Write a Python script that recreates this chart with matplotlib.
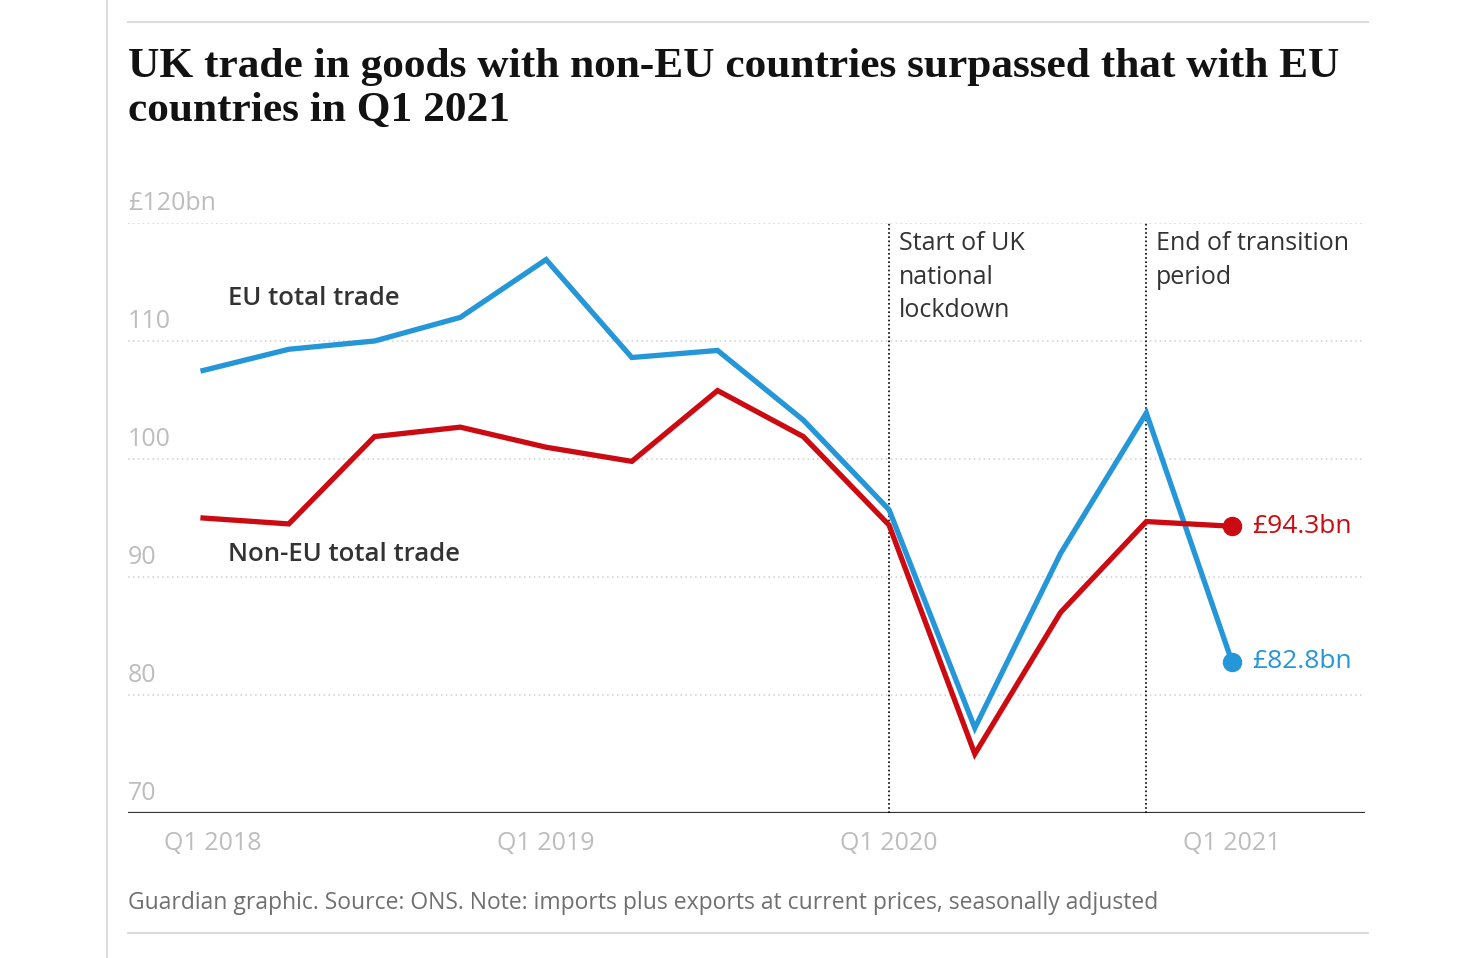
import matplotlib
matplotlib.use("Agg")
import matplotlib.pyplot as plt
import numpy as np

# quarterly trade in goods, £bn
quarters = ["Q1 2018", "Q2 2018", "Q3 2018", "Q4 2018",
            "Q1 2019", "Q2 2019", "Q3 2019", "Q4 2019",
            "Q1 2020", "Q2 2020", "Q3 2020", "Q4 2020", "Q1 2021"]
eu_trade = [107.5, 109.3, 110.0, 112.0, 116.9, 108.6, 109.2, 103.3,
            95.7, 77.2, 92.0, 103.9, 82.8]
non_eu_trade = [95.0, 94.5, 101.9, 102.7, 101.0, 99.8, 105.8, 101.9,
                94.4, 75.0, 87.0, 94.7, 94.3]
y_ticks = [70, 80, 90, 100, 110, 120]
y_tick_labels = ["70", "80", "90", "100", "110", "£120bn"]
x_tick_idx = [0, 4, 8, 12]
events = [(8, "Start of UK\nnational\nlockdown"), (11, "End of transition\nperiod")]
title_lines = ["UK trade in goods with non-EU countries surpassed that with EU",
               "countries in Q1 2021"]

W, H = 1472, 958
BLUE = "#2596d8"
RED = "#cc0a11"
DARK = "#333333"
GREY = "#bdbdbd"
SANS = ["Open Sans", "DejaVu Sans"]


def px(x, y):
    return x / W, 1 - y / H


fig = plt.figure(figsize=(W / 100, H / 100), dpi=100)
fig.patch.set_facecolor("white")

# axes placed so that the plot area matches the reference
l, b = px(128, 813)
r, t = px(1365, 223)
ax = fig.add_axes([l, b, r - l, t - b])
ax.set_xlim(-0.875, 13.55)
ax.set_ylim(70, 120)
ax.axis("off")

x = np.arange(len(quarters))

# grid lines + tick labels sitting above them
for v, lab in zip(y_ticks, y_tick_labels):
    if v == 70:
        ax.axhline(v, color=DARK, lw=1.6, zorder=2)
    else:
        ax.axhline(v, color="#cfcfcf", lw=1.1, ls=(0, (1, 2.2)), zorder=1)
    ax.annotate(lab, (0, v), xycoords=("axes fraction", "data"),
                xytext=(0, 7), textcoords="offset pixels",
                ha="left", va="bottom", fontsize=18, color=GREY,
                family=SANS, annotation_clip=False)

for i in x_tick_idx:
    dx = 10 if i == 0 else 0
    ax.annotate(quarters[i], (i, 70), xytext=(dx, -30), textcoords="offset pixels",
                ha="center", va="center", fontsize=18, color=GREY,
                family=SANS, annotation_clip=False)

# event markers
for i, txt in events:
    ax.plot([i, i], [70, 120], color="black", lw=1.2, ls=(0, (1, 1.5)), zorder=2)
    ax.annotate(txt, (i, 120), xytext=(10, -8), textcoords="offset pixels",
                ha="left", va="top", fontsize=18, color=DARK, family=SANS,
                linespacing=1.45, annotation_clip=False)

ax.plot(x, eu_trade, color=BLUE, lw=3.8, solid_joinstyle="miter", zorder=3)
ax.plot(x, non_eu_trade, color=RED, lw=3.8, solid_joinstyle="miter", zorder=4)
ax.plot(x[-1], eu_trade[-1], "o", color=BLUE, ms=13, zorder=5)
ax.plot(x[-1], non_eu_trade[-1], "o", color=RED, ms=13, zorder=5)

ax.annotate("£%.1fbn" % non_eu_trade[-1], (x[-1], non_eu_trade[-1]),
            xytext=(20, 0), textcoords="offset pixels", ha="left", va="center",
            fontsize=19, color=RED, family=SANS, fontweight="medium")
ax.annotate("£%.1fbn" % eu_trade[-1], (x[-1], eu_trade[-1]),
            xytext=(20, 0), textcoords="offset pixels", ha="left", va="center",
            fontsize=19, color=BLUE, family=SANS, fontweight="medium")

# series labels
ax.text(0.29, 113.6, "EU total trade", ha="left", va="center",
        fontsize=18.5, color=DARK, family=SANS, fontweight="semibold")
ax.text(0.29, 91.9, "Non-EU total trade", ha="left", va="center",
        fontsize=18.5, color=DARK, family=SANS, fontweight="semibold")

# title, fitted to the reference width
t1 = fig.text(*px(128, 77), title_lines[0], ha="left", va="baseline",
              fontsize=30, fontweight="bold", family=["Liberation Serif", "DejaVu Serif"],
              color="#121212")
t2 = fig.text(*px(128, 121), title_lines[1], ha="left", va="baseline",
              fontsize=30, fontweight="bold", family=["Liberation Serif", "DejaVu Serif"],
              color="#121212")
fig.canvas.draw()
fs = 30 * 1212 / t1.get_window_extent().width
t1.set_fontsize(fs)
t2.set_fontsize(fs)

# source
fig.text(*px(128, 903), "Guardian graphic. Source: ONS. Note: imports plus exports at current prices, seasonally adjusted",
         ha="left", va="center", fontsize=16.5, color="#707070", family=SANS)

# frame lines
fig.add_artist(plt.Line2D([107 / W, 107 / W], [0, 1], color="#dcdcdc", lw=1.5))
fig.add_artist(plt.Line2D([128 / W, 1368 / W], [1 - 22 / H, 1 - 22 / H], color="#dcdcdc", lw=1.5))
fig.add_artist(plt.Line2D([128 / W, 1368 / W], [1 - 933 / H, 1 - 933 / H], color="#dcdcdc", lw=1.5))

fig.savefig("out.png", dpi=100, facecolor="white")
